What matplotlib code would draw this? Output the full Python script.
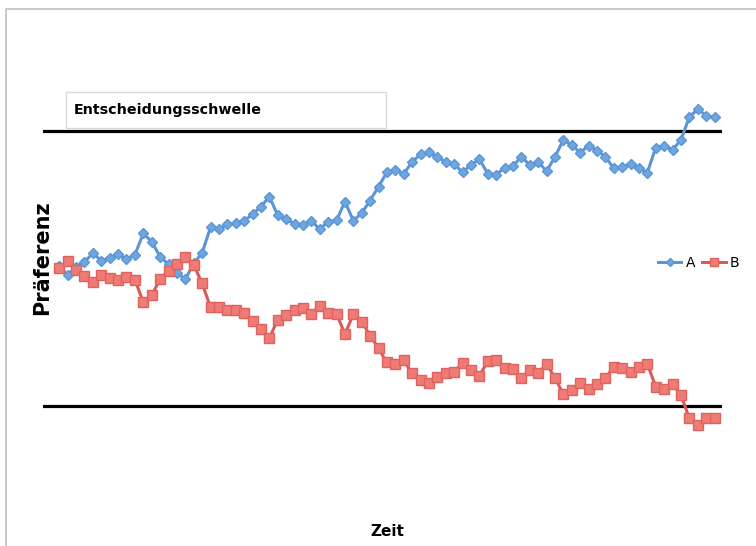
import matplotlib
matplotlib.use("Agg")
import matplotlib.pyplot as plt
from matplotlib.lines import Line2D
from matplotlib.patches import Rectangle

# Präferenz over time for two options, thresholds at +/-10
threshold = 10.0
pref_a = [0.20, -0.45, 0.13, 0.51, 1.12, 0.58, 0.80, 1.05, 0.69, 1.00,
          2.57, 1.96, 0.87, 0.32, -0.29, -0.77, 0.38, 1.14, 3.01, 2.85,
          3.23, 3.30, 3.47, 3.95, 4.50, 5.23, 3.88, 3.58, 3.26, 3.20,
          3.49, 2.86, 3.42, 3.50, 4.87, 3.49, 4.03, 4.95, 5.96, 7.00,
          7.17, 6.86, 7.77, 8.29, 8.48, 8.09, 7.77, 7.60, 7.00, 7.53,
          7.95, 6.91, 6.81, 7.34, 7.44, 8.13, 7.53, 7.77, 7.07, 8.11,
          9.35, 8.98, 8.42, 8.93, 8.57, 8.13, 7.29, 7.41, 7.60, 7.29,
          6.97, 8.79, 8.93, 8.62, 9.35, 10.99, 11.60, 11.11, 10.99]
pref_b = [0.08, 0.56, -0.07, -0.53, -0.98, -0.45, -0.64, -0.82, -0.58, -0.79,
          -2.44, -1.91, -0.77, -0.14, 0.31, 0.87, 0.27, -1.06, -2.80, -2.75,
          -2.97, -2.97, -3.25, -3.77, -4.40, -5.05, -3.70, -3.39, -3.03, -2.87,
          -3.26, -2.70, -3.23, -3.28, -4.74, -3.32, -3.84, -4.85, -5.79, -6.81,
          -6.90, -6.65, -7.60, -8.11, -8.29, -7.86, -7.59, -7.50, -6.82, -7.35,
          -7.79, -6.72, -6.65, -7.18, -7.30, -7.95, -7.33, -7.60, -6.91, -7.92,
          -9.11, -8.80, -8.27, -8.75, -8.37, -7.95, -7.11, -7.23, -7.47, -7.11,
          -6.91, -8.56, -8.75, -8.39, -9.17, -10.86, -11.34, -10.86, -10.86]
zeit = list(range(len(pref_a)))

W, H = 756, 546
fig = plt.figure(figsize=(W / 100, H / 100), dpi=100)
fig.patch.set_facecolor("white")

# plot area in pixel terms
left, right, top, bottom = 43, 722, 60, 480
ax = fig.add_axes([left / W, 1 - bottom / H, (right - left) / W, (bottom - top) / H])
ax.set_xlim(-1.94, 78.89)
ax.set_ylim(-15.34, 15.15)
ax.axis("off")

ax.axhline(threshold, color="black", lw=2.3, zorder=1)
ax.axhline(-threshold, color="black", lw=2.3, zorder=1)

ax.plot(zeit, pref_a, color="#5B95D6", lw=2.2, marker="D", markersize=5.5,
        markerfacecolor="#6FA6E0", markeredgecolor="#5B95D6", label="A", zorder=3)
ax.plot(zeit, pref_b, color="#DA5A55", lw=2.2, marker="s", markersize=7,
        markerfacecolor="#EE7B76", markeredgecolor="#E0625D", label="B", zorder=3)

ax.legend(loc="center left", bbox_to_anchor=(648 / W, 1 - 263 / H), bbox_transform=fig.transFigure,
          ncol=2, frameon=False, handlelength=1.7, handletextpad=0.3, columnspacing=0.5,
          fontsize=10, markerscale=0.8, borderpad=0.2)

# text box
fig.patches.append(Rectangle((66 / W, 1 - 128 / H), 320 / W, 36 / H, transform=fig.transFigure,
                             facecolor="white", edgecolor="#D9D9D9", lw=1.0, zorder=5))
fig.text(74 / W, 1 - 110 / H, "Entscheidungsschwelle", fontsize=10.3, fontweight="bold",
         va="center", ha="left", zorder=6)

fig.text(42 / W, 1 - 258 / H, "Präferenz", fontsize=15, fontweight="bold",
         rotation=90, va="center", ha="center")
fig.text(387 / W, 1 - 532 / H, "Zeit", fontsize=11, fontweight="bold", va="center", ha="center")

# chart border
fig.lines.append(Line2D([6 / W, 6 / W, 1.0], [0.0, 1 - 9 / H, 1 - 9 / H], transform=fig.transFigure,
                        color="#BFBFBF", lw=1.2))

fig.savefig("out.png", dpi=100)
